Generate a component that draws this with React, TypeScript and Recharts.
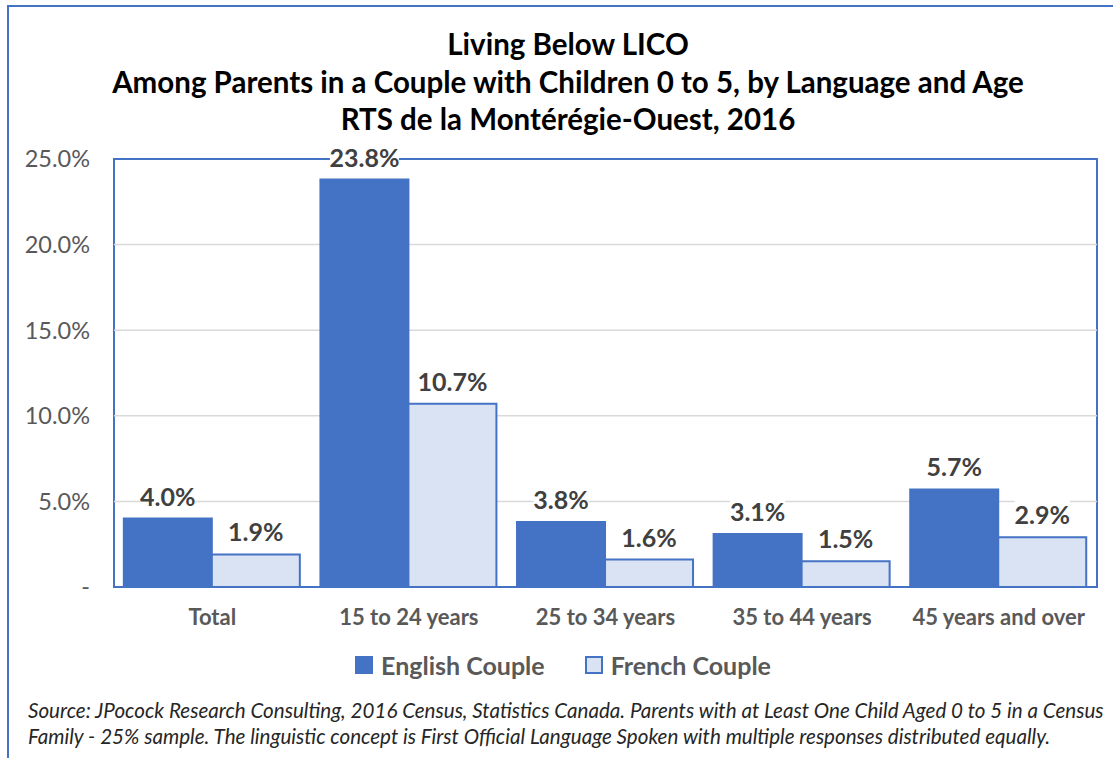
import React from "react";
import {
  BarChart,
  Bar,
  XAxis,
  YAxis,
  CartesianGrid,
  LabelList,
} from "recharts";

const categories = ["Total", "15 to 24 years", "25 to 34 years", "35 to 44 years", "45 years and over"];
const englishCouple = [4.0, 23.8, 3.8, 3.1, 5.7];
const frenchCouple = [1.9, 10.7, 1.6, 1.5, 2.9];
const yTicks = [0, 5, 10, 15, 20, 25];
const gridValues = [5, 10, 15, 20];
const titleLines = [
  "Living Below LICO",
  "Among Parents in a Couple with Children 0 to 5, by Language and Age",
  "RTS de la Montérégie-Ouest, 2016",
];
const sourceLines = [
  "Source: JPocock Research Consulting, 2016 Census, Statistics Canada. Parents with at Least One Child Aged 0 to 5 in a Census",
  "Family - 25% sample. The linguistic concept is First Official Language Spoken with multiple responses distributed equally.",
];
const seriesNames = ["English Couple", "French Couple"];

const data = categories.map((c, i) => ({
  cat: c,
  english: englishCouple[i],
  french: frenchCouple[i],
}));

const BLUE = "#4472C4";
const LIGHT = "#DAE3F3";
const FONT = "Lato, 'Open Sans', sans-serif";

const PLOT = { left: 114, top: 159, right: 1097, bottom: 587 };
const X_AXIS_H = 30;

const ValueLabel = (props: any) => {
  const { x, y, width, value } = props;
  const cx = Number(x) + Number(width) / 2;
  const cy = Number(y) - 23;
  const txt = Number(value).toFixed(1) + "%";
  const w = txt.length * 13.8;
  return (
    <g>
      <rect x={cx - w / 2} y={cy - 15} width={w} height={30} fill="#ffffff" />
      <text
        x={cx}
        y={cy}
        textAnchor="middle"
        dominantBaseline="central"
        fontFamily={FONT}
        fontWeight={700}
        fontSize={25}
        fill="#404040"
      >
        {txt}
      </text>
    </g>
  );
};

export default function App() {
  return (
    <div
      style={{
        position: "absolute",
        left: 0,
        top: 0,
        width: 1113,
        height: 758,
        background: "#fff",
        overflow: "hidden",
      }}
    >
      <div
        style={{
          position: "absolute",
          left: 7,
          top: 5,
          width: 1200,
          height: 900,
          borderTop: `2px solid ${BLUE}`,
          borderLeft: `2px solid ${BLUE}`,
        }}
      />
      <div
        style={{
          position: "absolute",
          left: PLOT.left - 1,
          top: PLOT.top - 1,
          width: PLOT.right - PLOT.left - 2,
          height: PLOT.bottom - PLOT.top - 2,
          border: `2px solid ${BLUE}`,
        }}
      />
      <div
        style={{
          position: "absolute",
          left: 0,
          top: 25,
          width: 1136,
          textAlign: "center",
          fontFamily: FONT,
          fontWeight: 700,
          fontSize: 29.5,
          lineHeight: "37.5px",
          color: "#000",
        }}
      >
        {titleLines.map((t) => (
          <div key={t}>{t}</div>
        ))}
      </div>
      <div style={{ position: "absolute", left: 0, top: 0 }}>
        <BarChart
          width={1113}
          height={758}
          data={data}
          margin={{
            top: PLOT.top,
            right: 1113 - PLOT.right,
            bottom: 758 - PLOT.bottom - X_AXIS_H,
            left: 0,
          }}
          barCategoryGap="5%"
          barGap={0}
        >
          <CartesianGrid
            vertical={false}
            horizontalValues={gridValues}
            stroke="#D9D9D9"
            strokeWidth={1.5}
          />
          <XAxis
            dataKey="cat"
            height={X_AXIS_H}
            tickLine={false}
            tickSize={0}
            tickMargin={22}
            axisLine={false}
            tick={{ fill: "#595959", fontFamily: FONT, fontWeight: 700, fontSize: 22 }}
            interval={0}
          />
          <YAxis
            width={PLOT.left}
            domain={[0, 25]}
            ticks={yTicks}
            tickLine={false}
            tickSize={0}
            tickMargin={24}
            axisLine={false}
            tickFormatter={(v: number) => (v === 0 ? "-" : v.toFixed(1) + "%")}
            tick={{ fill: "#595959", fontFamily: FONT, fontSize: 23.5 }}
          />
          <Bar
            dataKey="english"
            name={seriesNames[0]}
            fill={BLUE}
            stroke={BLUE}
            strokeWidth={2}
            isAnimationActive={false}
          >
            <LabelList dataKey="english" content={<ValueLabel />} />
          </Bar>
          <Bar
            dataKey="french"
            name={seriesNames[1]}
            fill={LIGHT}
            stroke={BLUE}
            strokeWidth={2}
            isAnimationActive={false}
          >
            <LabelList dataKey="french" content={<ValueLabel />} />
          </Bar>
        </BarChart>
      </div>
      <div
        style={{
          position: "absolute",
          left: 0,
          top: 649,
          width: 1126,
          display: "flex",
          justifyContent: "center",
          alignItems: "center",
          fontFamily: FONT,
          fontWeight: 700,
          fontSize: 25,
          lineHeight: "32px",
          color: "#595959",
          gap: 40,
        }}
      >
        {seriesNames.map((n, i) => (
          <div key={n} style={{ display: "flex", alignItems: "center" }}>
            <span
              style={{
                display: "inline-block",
                width: i === 0 ? 18 : 14,
                height: i === 0 ? 18 : 14,
                background: i === 0 ? BLUE : LIGHT,
                border: i === 0 ? "none" : `2px solid ${BLUE}`,
                marginRight: 8,
              }}
            />
            <span>{n}</span>
          </div>
        ))}
      </div>
      {sourceLines.map((s, i) => (
        <div
          key={i}
          style={{
            position: "absolute",
            left: 28,
            top: 697 + i * 26,
            whiteSpace: "nowrap",
            fontFamily: FONT,
            fontStyle: "italic",
            fontSize: 20.6,
            lineHeight: "26px",
            color: "#262626",
          }}
        >
          {s}
        </div>
      ))}
    </div>
  );
}
